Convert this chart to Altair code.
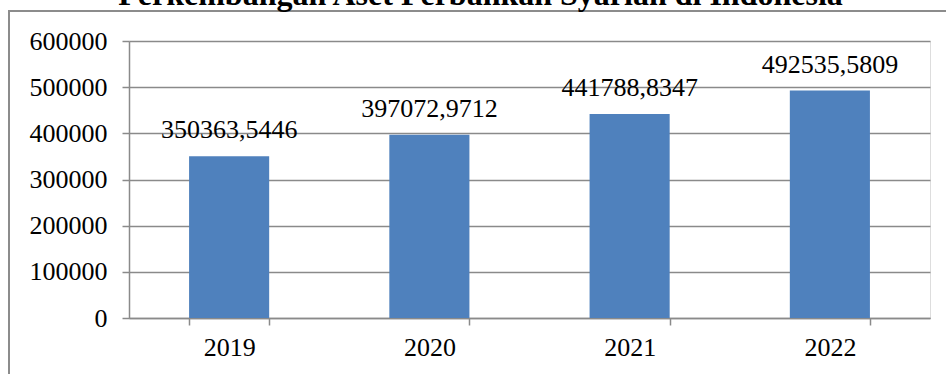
import altair as alt
import pandas as pd

# Sharia banking assets by year
years = ["2019", "2020", "2021", "2022"]
assets = [350363.5446, 397072.9712, 441788.8347, 492535.5809]
y_ticks = [0, 100000, 200000, 300000, 400000, 500000, 600000]

df = pd.DataFrame({"Tahun": years, "Aset": assets})
# value labels use a decimal comma
df["Label"] = [f"{v:.4f}".replace(".", ",") for v in df["Aset"]]

FONT = "Liberation Serif"
GRID = "#8a8a8a"
PLOT_W, PLOT_H = 801, 277

x_enc = alt.X(
    "Tahun:N",
    sort=years,
    scale=alt.Scale(paddingInner=0.6, paddingOuter=0.3),
    axis=alt.Axis(
        title=None,
        labelAngle=0,
        labelFont=FONT,
        labelFontSize=26,
        labelColor="black",
        labelPadding=9,
        tickBand="extent",
        tickSize=7,
        tickColor=GRID,
        tickWidth=1.5,
        domainColor=GRID,
        domainWidth=1.5,
        grid=False,
    ),
)
y_enc = alt.Y(
    "Aset:Q",
    scale=alt.Scale(domain=[0, 600000], nice=False),
    axis=alt.Axis(
        title=None,
        values=y_ticks,
        format="d",
        labelFont=FONT,
        labelFontSize=26,
        labelColor="black",
        labelPadding=15,
        tickSize=7,
        tickColor=GRID,
        tickWidth=1.5,
        domainColor=GRID,
        domainWidth=1.5,
        grid=True,
        gridColor=GRID,
        gridWidth=1.5,
    ),
)

base = alt.Chart(df)

bars = base.mark_bar(color="#4F81BD").encode(x=x_enc, y=y_enc)

labels = base.mark_text(
    font=FONT, fontSize=26, color="black", baseline="alphabetic", dy=-18
).encode(x=alt.X("Tahun:N", sort=years), y="Aset:Q", text="Label:N")

# outer frame of the chart box
frame = alt.Chart(pd.DataFrame({"f": [0]})).mark_rect(
    filled=False, stroke="#8c8c8c", strokeWidth=2
).encode(
    x=alt.value(-120),
    x2=alt.value(PLOT_W + 60),
    y=alt.value(-30),
    y2=alt.value(PLOT_H + 80),
)

chart = (
    alt.layer(frame, bars, labels)
    .properties(
        width=PLOT_W,
        height=PLOT_H,
        title=alt.TitleParams(
            "Perkembangan Aset Perbankan Syariah di Indonesia",
            font=FONT,
            fontSize=32,
            fontWeight="bold",
            color="black",
            anchor="middle",
            baseline="alphabetic",
            offset=0,
            dx=-49,
            dy=27,
        ),
        padding={"left": 129, "top": 41, "right": 16, "bottom": 56},
        autosize=alt.AutoSizeParams(type="none"),
    )
    .configure_view(stroke=None)
    .configure(background="white")
)

chart.save("out.html", embed_options={"renderer": "svg", "actions": False})
